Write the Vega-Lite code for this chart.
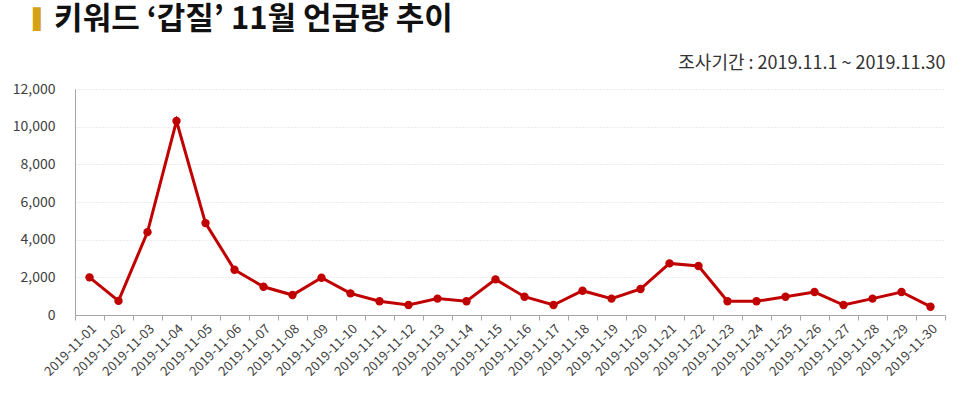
{
  "$schema": "https://vega.github.io/schema/vega-lite/v6.json",
  "width": 870,
  "height": 226,
  "autosize": {"type": "none"},
  "padding": {"left": 75, "top": 89, "right": 15, "bottom": 80},
  "background": "white",
  "title": {
    "text": "▌",
    "subtitle": "\u200b\u00a0\u00a0\u00a0키워드 ‘갑질’ 11월 언급량 추이",
    "anchor": "start",
    "frame": "group",
    "dx": -42,
    "offset": 13,
    "font": "DejaVu Sans",
    "fontSize": 20,
    "color": "#D5A215",
    "subtitleFont": "Noto Sans CJK KR",
    "subtitleFontSize": 31,
    "subtitleFontWeight": "bold",
    "subtitleColor": "#111111",
    "subtitlePadding": -25
  },
  "config": {
    "view": {"stroke": null},
    "font": "Noto Sans CJK KR",
    "axis": {
      "labelFont": "Noto Sans CJK KR",
      "titleFont": "Noto Sans CJK KR",
      "labelColor": "#404040",
      "domainColor": "#a6a6a6",
      "tickColor": "#a6a6a6"
    }
  },
  "data": {
    "values": [
      {"date": "2019-11-01", "count": 2000},
      {"date": "2019-11-02", "count": 750},
      {"date": "2019-11-03", "count": 4400},
      {"date": "2019-11-04", "count": 10300},
      {"date": "2019-11-05", "count": 4880},
      {"date": "2019-11-06", "count": 2400},
      {"date": "2019-11-07", "count": 1500},
      {"date": "2019-11-08", "count": 1060},
      {"date": "2019-11-09", "count": 1980},
      {"date": "2019-11-10", "count": 1150},
      {"date": "2019-11-11", "count": 730},
      {"date": "2019-11-12", "count": 530},
      {"date": "2019-11-13", "count": 870},
      {"date": "2019-11-14", "count": 730},
      {"date": "2019-11-15", "count": 1890},
      {"date": "2019-11-16", "count": 970},
      {"date": "2019-11-17", "count": 530},
      {"date": "2019-11-18", "count": 1290},
      {"date": "2019-11-19", "count": 870},
      {"date": "2019-11-20", "count": 1380},
      {"date": "2019-11-21", "count": 2740},
      {"date": "2019-11-22", "count": 2600},
      {"date": "2019-11-23", "count": 730},
      {"date": "2019-11-24", "count": 730},
      {"date": "2019-11-25", "count": 970},
      {"date": "2019-11-26", "count": 1220},
      {"date": "2019-11-27", "count": 530},
      {"date": "2019-11-28", "count": 870},
      {"date": "2019-11-29", "count": 1220},
      {"date": "2019-11-30", "count": 440}
    ]
  },
  "layer": [
    {
      "mark": {"type": "line", "color": "#C00000", "strokeWidth": 3},
      "encoding": {
        "x": {
          "field": "date",
          "type": "ordinal",
          "scale": {"type": "band", "paddingInner": 0, "paddingOuter": 0},
          "axis": {
            "orient": "bottom",
            "title": null,
            "labelAngle": -45,
            "labelFontSize": 13,
            "labelPadding": 2,
            "tickBand": "extent",
            "tickSize": 5,
            "grid": false
          }
        },
        "y": {
          "field": "count",
          "type": "quantitative",
          "scale": {"domain": [0, 12000]},
          "axis": {
            "title": null,
            "values": [0, 2000, 4000, 6000, 8000, 10000, 12000],
            "format": ",d",
            "labelFontSize": 14,
            "labelPadding": 20,
            "ticks": false,
            "grid": true,
            "gridColor": "#d9d9d9",
            "gridDash": [1, 2],
            "domain": true
          }
        }
      }
    },
    {
      "mark": {"type": "point", "filled": true, "size": 70, "color": "#C00000", "opacity": 1},
      "encoding": {
        "x": {
          "field": "date",
          "type": "ordinal",
          "axis": {
            "orient": "top",
            "labels": false,
            "ticks": false,
            "domain": false,
            "grid": false,
            "title": "조사기간 : 2019.11.1 ~ 2019.11.30",
            "titleAnchor": "end",
            "titleFontSize": 18,
            "titleFontWeight": "normal",
            "titleColor": "#333333",
            "titlePadding": 17
          }
        },
        "y": {"field": "count", "type": "quantitative", "axis": null}
      }
    }
  ],
  "resolve": {"axis": {"x": "independent", "y": "independent"}}
}
